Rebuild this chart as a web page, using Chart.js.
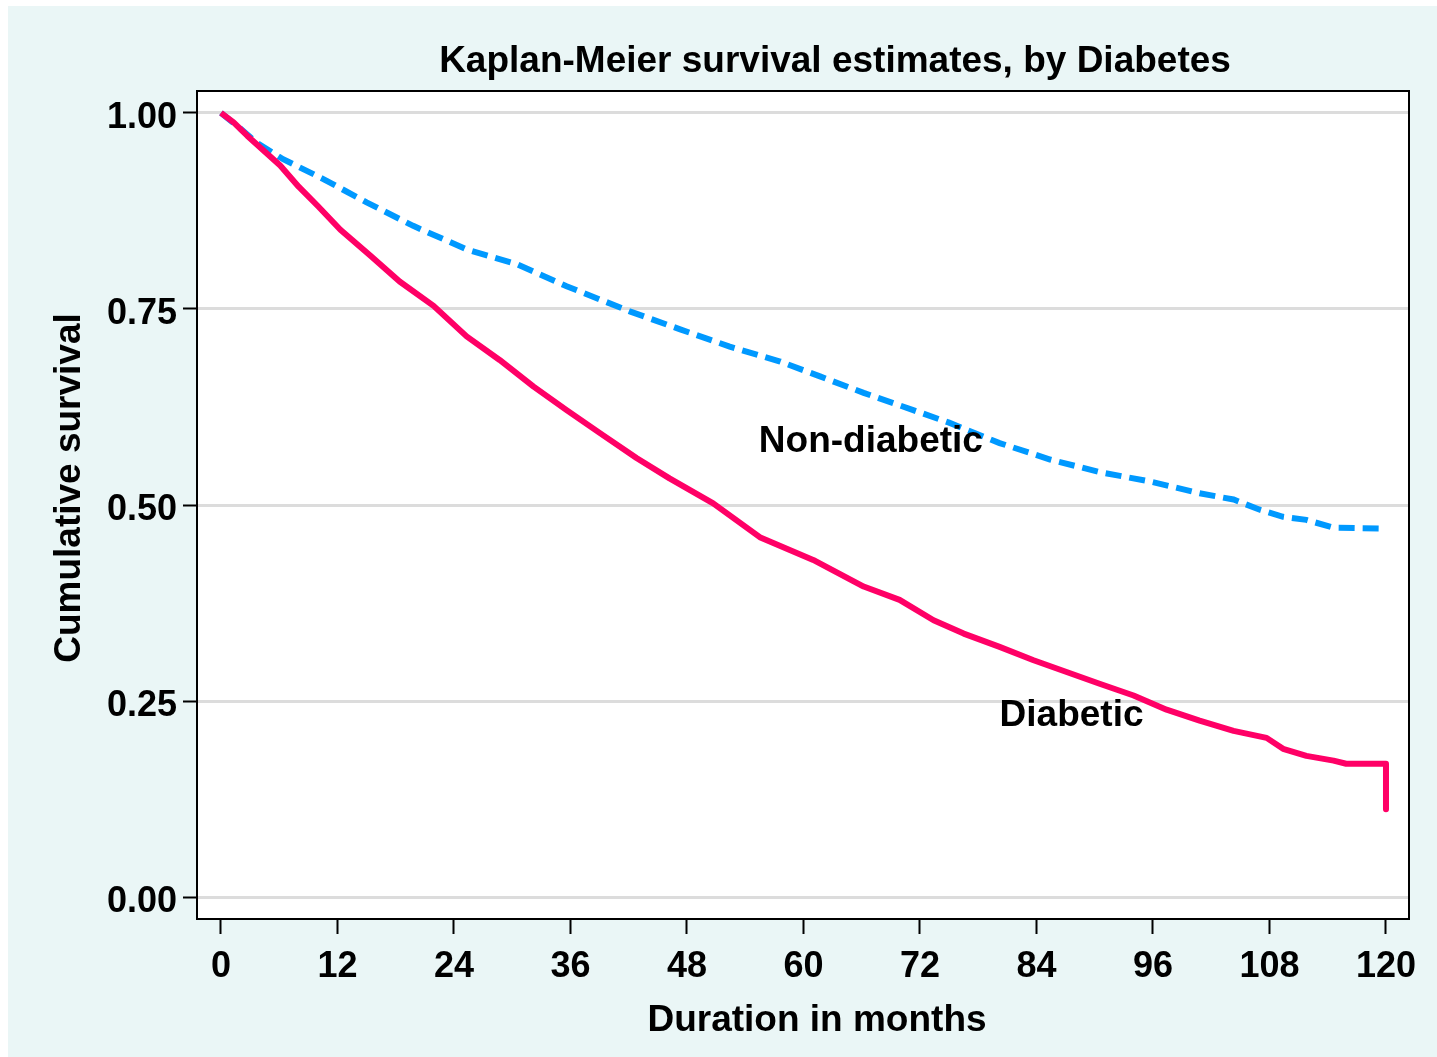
<!DOCTYPE html>
<html><head><meta charset="utf-8">
<script src="https://cdn.jsdelivr.net/npm/chart.js@4/dist/chart.umd.min.js"></script>
<style>html,body{margin:0;padding:0;background:#fff;}#wrap{position:relative;width:1437px;height:1057px;}canvas{display:block;}</style>
</head><body><div id="wrap"><canvas id="c" width="1437" height="1057"></canvas></div>
<script>
const chartTitle = 'Kaplan-Meier survival estimates, by Diabetes';
const xAxisTitle = 'Duration in months';
const yAxisTitle = 'Cumulative survival';
const seriesNames = ['Diabetic', 'Non-diabetic'];
const xTicks = [0, 12, 24, 36, 48, 60, 72, 84, 96, 108, 120];
const yTicks = [0, 0.25, 0.5, 0.75, 1];
const diabeticMonths = [0, 1.3, 2.7, 6.1, 8, 10, 12.3, 15.4, 18.4, 21.9, 25.3, 28.7, 32.2, 35.6, 39, 42.8, 46.2, 50.7, 55.5, 61, 66.2, 69.9, 73.4, 76.5, 80.2, 83.7, 87.1, 90.5, 94, 97.4, 100.8, 104.3, 107.7, 109.4, 111.8, 114.6, 115.9, 120, 120];
const diabeticSurvival = [1.000, 0.988, 0.971, 0.933, 0.906, 0.881, 0.851, 0.818, 0.785, 0.754, 0.715, 0.685, 0.651, 0.621, 0.592, 0.560, 0.534, 0.502, 0.459, 0.430, 0.396, 0.379, 0.353, 0.336, 0.319, 0.302, 0.287, 0.272, 0.257, 0.239, 0.225, 0.212, 0.203, 0.189, 0.180, 0.174, 0.170, 0.170, 0.112];
const nonDiabeticMonths = [0, 2, 3.7, 6.4, 10.5, 15, 19.8, 25.3, 30.5, 35.6, 42.1, 47.3, 52.4, 57.6, 61.7, 66.2, 71.3, 75, 80.2, 85.4, 90.5, 95.7, 100.8, 104.3, 107, 109.4, 111.8, 114.6, 120];
const nonDiabeticSurvival = [1.000, 0.980, 0.962, 0.941, 0.916, 0.886, 0.856, 0.826, 0.807, 0.779, 0.747, 0.724, 0.702, 0.683, 0.664, 0.643, 0.621, 0.605, 0.579, 0.558, 0.542, 0.530, 0.515, 0.507, 0.494, 0.485, 0.481, 0.471, 0.470];
// text label anchors (month, survival)
const labelMonths = [80.2, 55.4];
const labelSurvival = [0.234, 0.583];

const FONT = '"Liberation Sans", Arial, Helvetica, sans-serif';
const toXY = (xs, ys) => xs.map((x, i) => ({x: x, y: ys[i]}));

const decor = {
  id: 'decor',
  beforeDraw(chart) {
    const {ctx, chartArea: a} = chart;
    ctx.save();
    ctx.fillStyle = '#ffffff';
    ctx.fillRect(0, 0, chart.width, chart.height);
    ctx.fillStyle = '#EAF6F6';
    ctx.fillRect(8, 6, chart.width - 8, chart.height - 6);
    ctx.fillStyle = '#ffffff';
    ctx.fillRect(a.left, a.top, a.right - a.left, a.bottom - a.top);
    ctx.restore();
  },
  afterDraw(chart) {
    const {ctx, chartArea: a, scales} = chart;
    ctx.save();
    ctx.strokeStyle = '#000';
    ctx.lineWidth = 2;
    ctx.strokeRect(a.left, a.top, a.right - a.left, a.bottom - a.top);
    ctx.fillStyle = '#000';
    ctx.font = 'bold 37px ' + FONT;
    ctx.textBaseline = 'middle';
    ctx.textAlign = 'center';
    ctx.fillText(chartTitle, 835, 62);
    ctx.fillText(xAxisTitle, 817, 1021);
    ctx.save();
    ctx.translate(70, 488);
    ctx.rotate(-Math.PI / 2);
    ctx.fillText(yAxisTitle, 0, 0);
    ctx.restore();
    ctx.textAlign = 'left';
    seriesNames.forEach((n, i) => {
      ctx.fillText(n, scales.x.getPixelForValue(labelMonths[i]), scales.y.getPixelForValue(labelSurvival[i]) + 2);
    });
    ctx.restore();
  }
};

new Chart(document.getElementById('c'), {
  type: 'line',
  data: {
    datasets: [
      {label: seriesNames[0], data: toXY(diabeticMonths, diabeticSurvival), borderColor: '#FF0066', borderWidth: 6, pointRadius: 0, tension: 0, borderJoinStyle: 'round', borderCapStyle: 'butt'},
      {label: seriesNames[1], data: toXY(nonDiabeticMonths, nonDiabeticSurvival), borderColor: '#0099FF', borderWidth: 6, borderDash: [16, 8], pointRadius: 0, tension: 0, borderCapStyle: 'butt'}
    ]
  },
  options: {
    responsive: false,
    animation: false,
    devicePixelRatio: 1,
    layout: {padding: {left: 8, top: 91, right: 28, bottom: 0}},
    plugins: {legend: {display: false}, tooltip: {enabled: false}, title: {display: false}},
    scales: {
      x: {
        type: 'linear', min: -2.47, max: 122.37,
        afterBuildTicks: s => { s.ticks = xTicks.map(v => ({value: v})); },
        afterFit: s => { s.height = 138; },
        grid: {drawOnChartArea: false, drawTicks: true, tickLength: 15, tickColor: '#000', tickWidth: 2},
        border: {display: false},
        ticks: {font: {family: FONT, size: 36, weight: 'bold'}, color: '#000', padding: 11, maxRotation: 0, autoSkip: false, callback: v => String(v)}
      },
      y: {
        type: 'linear', min: -0.028, max: 1.028,
        afterBuildTicks: s => { s.ticks = yTicks.map(v => ({value: v})); },
        afterFit: s => { s.width = 189; },
        grid: {color: '#DCDCDC', lineWidth: 3, drawTicks: true, tickLength: 14, tickColor: '#000', tickWidth: 2},
        border: {display: false},
        ticks: {font: {family: FONT, size: 36, weight: 'bold'}, color: '#000', padding: 6, labelOffset: 5, callback: v => Number(v).toFixed(2)}
      }
    }
  },
  plugins: [decor]
});
</script></body></html>
